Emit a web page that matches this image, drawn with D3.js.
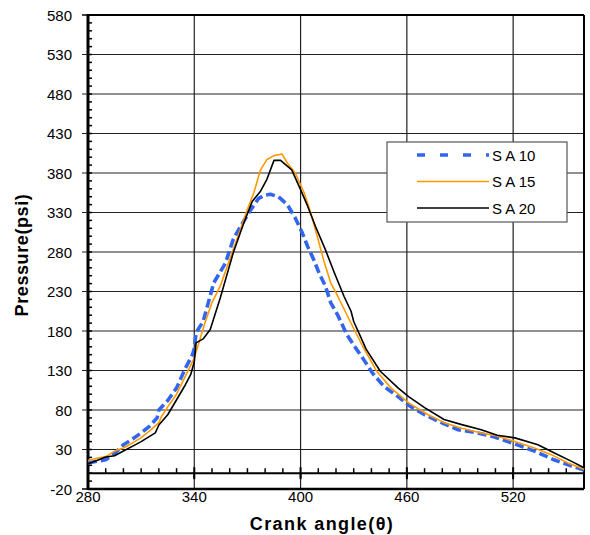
<!DOCTYPE html>
<html>
<head>
<title>Pressure vs crank angle</title>
<style>
  body { margin: 0; background: #fff; }
  text { font-family: "Liberation Sans", Arial, sans-serif; fill: #000; }
  .title { font-weight: bold; font-size: 18px; }
  .tick-label { font-size: 15px; }
</style>
<script src="https://d3js.org/d3.v7.min.js"></script>
</head>
<body>
<svg width="590" height="535"></svg>
<script>
// series values (crank angle in deg, pressure in psi)
var sa10Angle = [280,285,290,295,300,305,310,315,319,320,325,330,335,339,340,341,345,351,357.6,362,366,371.7,376.4,380,383,387.5,392.5,397,401,404,407.5,410.5,414,417,421,426,430,435,440.5,447,455,461,470,479.5,489,500,509,520.5,532,543,553,560];
var sa10Pressure = [13,15,17,25,36,43,51,60,70,80,92,108,133,150,158,178,192,241,266,296,312,333,348,352,353,350,340,323,304,287,270,253,237,216,200,176,162,146,127,110,97,86,74,64,55,51,46,37.5,28,17,9,4];

var sa15Angle = [280,285,290,295,300,305,310,315,320,321.5,325,330,335,340,346,350,354.7,358,362,366,370,373.6,377.4,381,385,389.6,392.4,397,402,405.7,409.4,413,417,421,428,435,443,451,461,472,481,491,502,511,521,532,541.5,551,560];
var sa15Pressure = [16,19,21,28,32,38,45,54,64,72,84,100,123,146,190,216,237,258,283,308,334,355,384,397,402,404,393,380,355,330,300,270,241,224,192,161,129,108,89,74,64,57,51,47,40,32,23.5,13,5];

var sa20Angle = [280,285,290,295,300,305,310,315,318,320,325,330,335,338,340,341,345,349,354.7,362,368,372.7,377.4,381,385,388.7,395,400,404,408.5,414,419,424.5,428.5,430,437,445,455,461,470,481,491,502,511,521,534,543,553,560];
var sa20Pressure = [12,16,20.6,22,28,34,40,47,51,61,74,93,112,125,141,165,170,182,222,279,317,344,357,372,396,396,384,359,338,312,283,254,224,205,192,157,129,108,97,83,68,61.5,55,48,44.7,36,26,15,7];

var seriesNames = ["S A 10", "S A 15", "S A 20"];
var xTicks = [280, 340, 400, 460, 520];
var yTicks = [-20, 30, 80, 130, 180, 230, 280, 330, 380, 430, 480, 530, 580];

var svg = d3.select("svg");

var x = d3.scaleLinear().domain([280, 560]).range([88, 584]);
var y = d3.scaleLinear().domain([-20, 580]).range([489, 15]);

// gridlines
svg.append("g").selectAll("line")
  .data(yTicks.slice(1, -1))
  .enter().append("line")
  .attr("x1", x(280) - 6).attr("x2", x(560))
  .attr("y1", function(d) { return y(d); }).attr("y2", function(d) { return y(d); })
  .attr("stroke", "#222").attr("stroke-width", 1.2);

svg.append("g").selectAll("line")
  .data(xTicks.slice(1))
  .enter().append("line")
  .attr("x1", function(d) { return x(d); }).attr("x2", function(d) { return x(d); })
  .attr("y1", y(580)).attr("y2", y(-20))
  .attr("stroke", "#222").attr("stroke-width", 1.2);

// y axis minor ticks (inside)
svg.append("g").selectAll("line")
  .data(d3.range(-20, 581, 10))
  .enter().append("line")
  .attr("x1", x(280)).attr("x2", x(280) + 4)
  .attr("y1", function(d) { return y(d); }).attr("y2", function(d) { return y(d); })
  .attr("stroke", "#000").attr("stroke-width", 1.5);

// x axis at zero, minor ticks upwards, majors both sides
svg.append("g").selectAll("line")
  .data(d3.range(280, 561, 10))
  .enter().append("line")
  .attr("x1", function(d) { return x(d); }).attr("x2", function(d) { return x(d); })
  .attr("y1", y(0)).attr("y2", function(d) { return (d - 280) % 60 === 0 ? y(0) + 5 : y(0) - 5; })
  .attr("stroke", "#000").attr("stroke-width", 1.5);
svg.append("g").selectAll("line")
  .data(xTicks)
  .enter().append("line")
  .attr("x1", function(d) { return x(d); }).attr("x2", function(d) { return x(d); })
  .attr("y1", y(0) - 6).attr("y2", y(0) + 6)
  .attr("stroke", "#000").attr("stroke-width", 2);
svg.append("line")
  .attr("x1", x(280)).attr("x2", x(560)).attr("y1", y(0)).attr("y2", y(0))
  .attr("stroke", "#000").attr("stroke-width", 2);

// frame
svg.append("line").attr("x1", x(280)).attr("x2", x(560)).attr("y1", y(580)).attr("y2", y(580))
  .attr("stroke", "#000").attr("stroke-width", 2);
svg.append("line").attr("x1", x(560)).attr("x2", x(560)).attr("y1", y(580)).attr("y2", y(-20))
  .attr("stroke", "#000").attr("stroke-width", 2);
svg.append("line").attr("x1", x(280)).attr("x2", x(560)).attr("y1", y(-20)).attr("y2", y(-20))
  .attr("stroke", "#000").attr("stroke-width", 2.5);
svg.append("line").attr("x1", x(280)).attr("x2", x(280)).attr("y1", y(580) - 1).attr("y2", y(-20) + 1)
  .attr("stroke", "#000").attr("stroke-width", 3);
svg.append("g").selectAll("line")
  .data([-20, 580])
  .enter().append("line")
  .attr("x1", x(280) - 6).attr("x2", x(280))
  .attr("y1", function(d) { return y(d); }).attr("y2", function(d) { return y(d); })
  .attr("stroke", "#000").attr("stroke-width", 1.5);

// tick labels
svg.append("g").selectAll("text")
  .data(yTicks)
  .enter().append("text")
  .attr("class", "tick-label")
  .attr("x", 72)
  .attr("y", function(d) { return y(d) + 5.5; })
  .attr("text-anchor", "end")
  .text(function(d) { return d; });

svg.append("g").selectAll("text")
  .data(xTicks)
  .enter().append("text")
  .attr("class", "tick-label")
  .attr("x", function(d) { return x(d); })
  .attr("y", 502)
  .attr("text-anchor", "middle")
  .text(function(d) { return d; });

// axis titles
svg.append("text")
  .attr("class", "title")
  .attr("transform", "translate(28,255) rotate(-90)")
  .attr("text-anchor", "middle")
  .style("letter-spacing", "0.6px")
  .text("Pressure(psi)");

svg.append("text")
  .attr("class", "title")
  .attr("x", 322).attr("y", 530)
  .attr("text-anchor", "middle")
  .style("letter-spacing", "1.4px")
  .text("Crank angle(\u03b8)");

// curves
var line = d3.line()
  .x(function(d) { return x(d[0]); })
  .y(function(d) { return y(d[1]); });

var series = [
  { name: seriesNames[0], pts: d3.zip(sa10Angle, sa10Pressure), color: "#3366ee", width: 3.6, dash: "9,4", legendDash: "8,15" },
  { name: seriesNames[1], pts: d3.zip(sa15Angle, sa15Pressure), color: "#ff9900", width: 1.6, dash: null, legendDash: null },
  { name: seriesNames[2], pts: d3.zip(sa20Angle, sa20Pressure), color: "#000000", width: 1.6, dash: null, legendDash: null }
];

svg.append("g").selectAll("path")
  .data(series)
  .enter().append("path")
  .attr("d", function(d) { return line(d.pts); })
  .attr("fill", "none")
  .attr("stroke", function(d) { return d.color; })
  .attr("stroke-width", function(d) { return d.width; })
  .attr("stroke-dasharray", function(d) { return d.dash; })
  .attr("stroke-linejoin", "round");

// legend
var legend = svg.append("g");
legend.append("rect")
  .attr("x", 387).attr("y", 142).attr("width", 180).attr("height", 80)
  .attr("fill", "#fff").attr("stroke", "#555").attr("stroke-width", 1.2);

var rows = legend.selectAll(".row")
  .data(series)
  .enter().append("g")
  .attr("class", "row")
  .attr("transform", function(d, i) { return "translate(0," + (155 + i * 26.5) + ")"; });

rows.append("line")
  .attr("x1", 417).attr("x2", 489).attr("y1", 0).attr("y2", 0)
  .attr("stroke", function(d) { return d.color; })
  .attr("stroke-width", function(d) { return d.dash ? 3.6 : 1.6; })
  .attr("stroke-dasharray", function(d) { return d.legendDash; });

rows.append("text")
  .attr("x", 492).attr("y", 5.5)
  .style("font-size", "15px")
  .text(function(d) { return d.name; });
</script>
</body>
</html>
